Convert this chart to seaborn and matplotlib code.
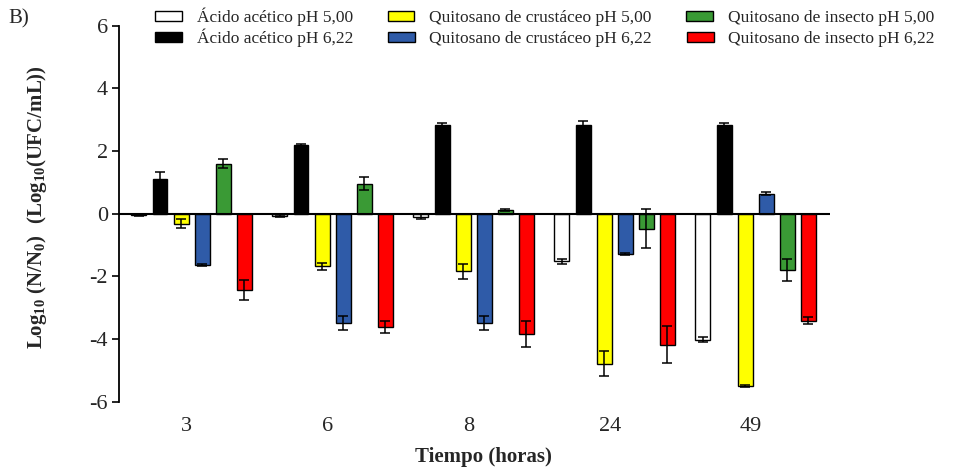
import numpy as np
import pandas as pd
import matplotlib
matplotlib.use("Agg")
import matplotlib.pyplot as plt
import matplotlib.transforms as mtransforms
import seaborn as sns

# Tiempo de muestreo (horas)
tiempo = ["3", "6", "8", "24", "49"]

tratamientos = [
    "Ácido acético pH 5,00",
    "Ácido acético pH 6,22",
    "Quitosano de crustáceo pH 5,00",
    "Quitosano de crustáceo pH 6,22",
    "Quitosano de insecto pH 5,00",
    "Quitosano de insecto pH 6,22",
]
colores = ["#FFFFFF", "#000000", "#FFFF00", "#2F5BA8", "#3A9A35", "#FF0000"]

# Log10(N/N0) medio y desviación estándar por tratamiento
acido_50 = [-0.05, -0.07, -0.10, -1.51, -4.03]
acido_50_de = [0.03, 0.03, 0.08, 0.08, 0.08]
acido_622 = [1.12, 2.18, 2.83, 2.82, 2.84]
acido_622_de = [0.20, 0.03, 0.05, 0.13, 0.04]
crust_50 = [-0.32, -1.68, -1.84, -4.79, -5.49]
crust_50_de = [0.15, 0.12, 0.25, 0.40, 0.03]
crust_622 = [-1.63, -3.49, -3.49, -1.30, 0.64]
crust_622_de = [0.04, 0.22, 0.22, 0.03, 0.04]
insect_50 = [1.60, 0.96, 0.12, -0.48, -1.79]
insect_50_de = [0.15, 0.20, 0.03, 0.62, 0.35]
insect_622 = [-2.43, -3.62, -3.83, -4.18, -3.41]
insect_622_de = [0.32, 0.20, 0.42, 0.58, 0.10]

medias = [acido_50, acido_622, crust_50, crust_622, insect_50, insect_622]
desvios = [acido_50_de, acido_622_de, crust_50_de, crust_622_de, insect_50_de, insect_622_de]

filas = []
for trat, m, d in zip(tratamientos, medias, desvios):
    for t, v, e in zip(tiempo, m, d):
        filas.append({"Tiempo": t, "Tratamiento": trat, "valor": v, "de": e})
df = pd.DataFrame(filas)

sns.set_style("white")
plt.rcParams["font.family"] = ["Liberation Serif", "DejaVu Serif"]
plt.rcParams["axes.unicode_minus"] = False
plt.rcParams["mathtext.fontset"] = "custom"
plt.rcParams["mathtext.rm"] = "Liberation Serif:bold"
plt.rcParams["mathtext.it"] = "Liberation Serif:bold"
plt.rcParams["mathtext.bf"] = "Liberation Serif:bold"
plt.rcParams["mathtext.default"] = "rm"

W, H = 961, 473
fig = plt.figure(figsize=(W / 100, H / 100), dpi=100)
ax = fig.add_axes([119 / W, 1 - 401.7 / H, 711 / W, 376 / H])

sns.barplot(
    data=df, x="Tiempo", y="valor", hue="Tratamiento",
    order=tiempo, hue_order=tratamientos, palette=colores,
    errorbar=None, width=0.897, gap=0.29, saturation=1,
    edgecolor="black", linewidth=1.0, ax=ax,
)

# Barras de error (± DE) sobre cada barra
for cont, trat in zip(ax.containers, tratamientos):
    sub = df[df["Tratamiento"] == trat].set_index("Tiempo").loc[tiempo]
    xs = [b.get_x() + b.get_width() / 2 for b in cont]
    ys = list(cont.datavalues)
    ax.errorbar(xs, ys, yerr=sub["de"].values, fmt="none", ecolor="black",
                elinewidth=1.1, capsize=3.3, capthick=1.1, zorder=3)

ax.axhline(0, color="black", lw=1.5, zorder=4)

ax.set_xlim(-0.515, 4.527)
ax.set_ylim(-6, 6)
ax.set_yticks([-6, -4, -2, 0, 2, 4, 6])
for s in ["top", "right", "bottom"]:
    ax.spines[s].set_visible(False)
ax.spines["left"].set_linewidth(1.3)
ax.spines["left"].set_color("black")
ax.tick_params(axis="y", left=True, length=5, width=1.2, labelsize=16, pad=3, color="black")
ax.tick_params(axis="x", bottom=False, length=0, labelsize=16, pad=11)

offset = mtransforms.ScaledTranslation(-5 / 100, 0, fig.dpi_scale_trans)
for lab in ax.get_xticklabels():
    lab.set_transform(lab.get_transform() + offset)

ax.set_xlabel("Tiempo (horas)", fontsize=15, fontweight="bold")
ax.xaxis.set_label_coords(0.513, -0.147)
ax.xaxis.label.set_verticalalignment("center")
ax.set_ylabel(r"$Log_{10}\ (N/N_0)\ \ (Log_{10}(UFC/mL))$", fontsize=15)
ax.yaxis.set_label_coords(-0.1153, 0.518)
ax.yaxis.label.set_verticalalignment("center")

# Leyenda en dos filas (pH 5,00 arriba, pH 6,22 abajo)
handles, labels = ax.get_legend_handles_labels()
if ax.get_legend() is not None:
    ax.get_legend().remove()
opts = dict(ncol=3, loc="center left", bbox_transform=fig.transFigure,
            frameon=False, fontsize=12.5, borderpad=0, borderaxespad=0,
            handlelength=1.55, handleheight=0.55, handletextpad=0.85,
            columnspacing=2.0)
for fila, yc in zip([(0, 2, 4), (1, 3, 5)], [17, 38]):
    fig.legend([handles[i] for i in fila], [labels[i] for i in fila],
               bbox_to_anchor=(155 / W, 1 - yc / H), **opts)

fig.text(8 / W, 1 - 19 / H, "B)", fontsize=15, ha="left", va="center")

fig.savefig("out.png", dpi=100)
